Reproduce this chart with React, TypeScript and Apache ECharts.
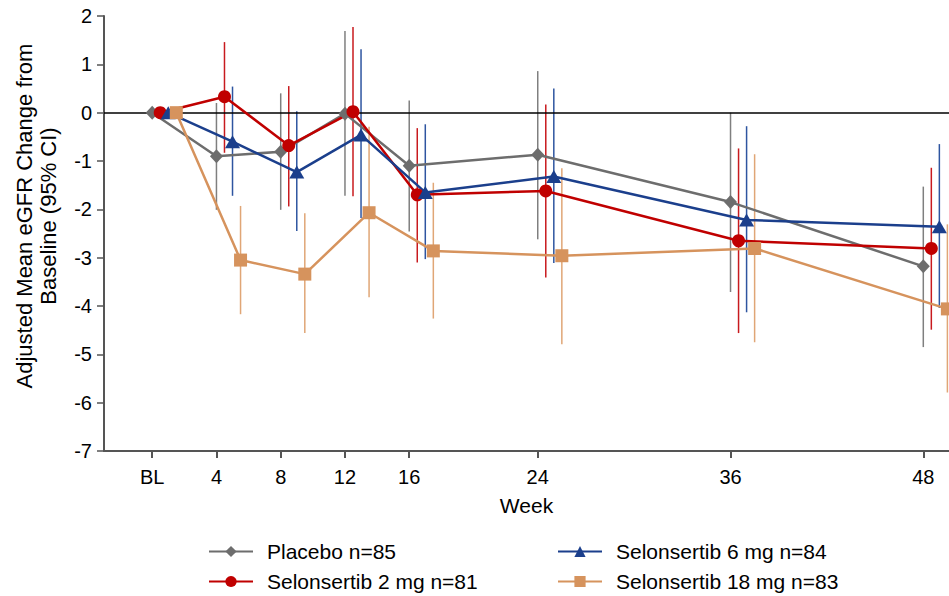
import React, { useEffect, useRef } from "react";
import * as echarts from "echarts";

const weeks = [0, 4, 8, 12, 16, 24, 36, 48];
const tickLabels = ["BL", "4", "8", "12", "16", "24", "36", "48"];
const seriesNames = [
  "Placebo n=85",
  "Selonsertib 2 mg n=81",
  "Selonsertib 6 mg n=84",
  "Selonsertib 18 mg n=83",
];
const yTitle = "Adjusted Mean eGFR Change from\nBaseline (95% CI)";
const xTitle = "Week";

const placeboMean = [0, -0.9, -0.81, -0.02, -1.1, -0.87, -1.85, -3.18];
const placeboLo = [null, -2.01, -2.01, -1.72, -2.46, -2.62, -3.71, -4.85];
const placeboHi = [null, 0.2, 0.4, 1.69, 0.25, 0.86, 0.0, -1.53];

const sel2Mean = [0, 0.33, -0.68, 0.02, -1.7, -1.62, -2.65, -2.81];
const sel2Lo = [null, -0.83, -1.94, -1.73, -3.1, -3.41, -4.56, -4.49];
const sel2Hi = [null, 1.46, 0.55, 1.77, -0.32, 0.17, -0.74, -1.14];

const sel6Mean = [0, -0.6, -1.23, -0.46, -1.65, -1.32, -2.22, -2.36];
const sel6Lo = [null, -1.72, -2.45, -2.18, -3.03, -3.11, -4.13, -4.04];
const sel6Hi = [null, 0.54, 0.03, 1.31, -0.24, 0.5, -0.28, -0.65];

const sel18Mean = [0, -3.05, -3.34, -2.07, -2.86, -2.96, -2.81, -4.06];
const sel18Lo = [null, -4.17, -4.56, -3.82, -4.26, -4.79, -4.75, -5.79];
const sel18Hi = [null, -1.93, -2.08, -0.29, -1.45, -1.15, -0.86, -2.31];

const offsets = [0, 0.5, 1.0, 1.5];

export default function App() {
  const ref = useRef<HTMLDivElement>(null);
  useEffect(() => {
    document.body.style.margin = "0";
    if (!ref.current) return;
    const chart = echarts.init(ref.current, null, { renderer: "svg" });
    const font = "'Liberation Sans', Arial, Helvetica, sans-serif";
    const groups = [
      { name: seriesNames[0], mean: placeboMean, lo: placeboLo, hi: placeboHi, color: "#6d6d6d", ci: "#7f7f7f", symbol: "diamond", size: [13, 14] },
      { name: seriesNames[1], mean: sel2Mean, lo: sel2Lo, hi: sel2Hi, color: "#c00000", ci: "#c81a1e", symbol: "circle", size: 13 },
      { name: seriesNames[2], mean: sel6Mean, lo: sel6Lo, hi: sel6Hi, color: "#1b3f8c", ci: "#2e55a0", symbol: "triangle", size: [15, 13] },
      { name: seriesNames[3], mean: sel18Mean, lo: sel18Lo, hi: sel18Hi, color: "#d6935d", ci: "#e0a676", symbol: "rect", size: 13 },
    ];
    const series: any[] = [];
    groups.forEach((g, i) => {
      const errData = weeks
        .map((w, j) => (g.lo[j] == null ? null : [w + offsets[i], g.lo[j], g.hi[j]]))
        .filter((d) => d !== null);
      series.push({
        type: "custom",
        name: g.name + " CI",
        z: 1,
        silent: true,
        data: errData,
        encode: { x: 0, y: [1, 2] },
        renderItem: (params: any, api: any) => {
          const x = api.value(0);
          const p1 = api.coord([x, api.value(1)]);
          const p2 = api.coord([x, api.value(2)]);
          return {
            type: "line",
            shape: { x1: p1[0], y1: p1[1], x2: p2[0], y2: p2[1] },
            style: { stroke: g.ci, lineWidth: 1.5 },
          };
        },
      });
    });
    groups.forEach((g, i) => {
      const s: any = {
        type: "line",
        name: g.name,
        z: 3,
        data: weeks.map((w, j) => [w + offsets[i], g.mean[j]]),
        symbol: g.symbol,
        symbolSize: g.size,
        showSymbol: true,
        clip: false,
        lineStyle: { color: g.color, width: 2.5 },
        itemStyle: { color: g.color },
      };
      if (i === 0) {
        s.markLine = {
          silent: true,
          symbol: "none",
          label: { show: false },
          lineStyle: { color: "#000", width: 1.5, type: "solid" },
          data: [{ yAxis: 0 }],
          z: 2,
        };
      }
      series.push(s);
    });

    const legendBase = {
      orient: "vertical",
      top: 541,
      height: 55,
      padding: 0,
      itemWidth: 44,
      itemHeight: 14,
      itemGap: 9,
      selectedMode: false,
      textStyle: { fontFamily: font, fontSize: 21, color: "#000", padding: [0, 0, 0, 9] },
    };

    chart.setOption({
      animation: false,
      grid: { left: 104, right: 0, top: 16, bottom: 145, containLabel: false },
      xAxis: {
        type: "value",
        min: -3,
        max: 49.6,
        name: xTitle,
        nameLocation: "middle",
        nameGap: 44,
        nameTextStyle: { fontFamily: font, fontSize: 21, color: "#000" },
        axisLine: { onZero: false, lineStyle: { color: "#555", width: 2 } },
        axisTick: { show: true, customValues: weeks, length: 7, lineStyle: { color: "#555", width: 2 } },
        axisLabel: {
          customValues: weeks,
          formatter: (v: number) => tickLabels[weeks.indexOf(v)] ?? "",
          fontFamily: font,
          fontSize: 20,
          color: "#000",
          margin: 16,
        },
        splitLine: { show: false },
      },
      yAxis: {
        type: "value",
        min: -7,
        max: 2,
        interval: 1,
        axisLine: { show: true, onZero: false, lineStyle: { color: "#555", width: 2 } },
        axisTick: { show: true, length: 7, lineStyle: { color: "#555", width: 1.5 } },
        axisLabel: { fontFamily: font, fontSize: 20, color: "#000", margin: 12 },
        splitLine: { show: false },
      },
      graphic: [
        {
          type: "text",
          x: 36,
          y: 216,
          rotation: Math.PI / 2,
          style: {
            text: yTitle,
            fontFamily: font,
            fontSize: 22,
            lineHeight: 24,
            fill: "#000",
            textAlign: "center",
            textVerticalAlign: "middle",
          },
        },
      ],
      legend: [
        { ...legendBase, data: [seriesNames[0], seriesNames[1]], left: 208 },
        { ...legendBase, data: [seriesNames[2], seriesNames[3]], left: 557 },
      ],
      series,
    });
    return () => chart.dispose();
  }, []);
  return <div ref={ref} style={{ width: 949, height: 596 }} />;
}
